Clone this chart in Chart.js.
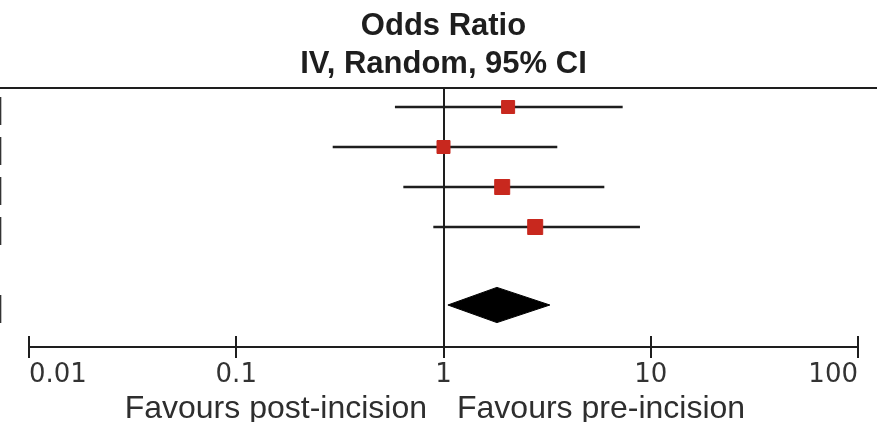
<!DOCTYPE html>
<html><head><meta charset="utf-8">
<script src="https://cdn.jsdelivr.net/npm/chart.js@4.4.1/dist/chart.umd.min.js"></script>
<style>html,body{margin:0;padding:0;background:#fff;}#wrap{width:877px;height:422px;}</style>
</head><body><div id="wrap"><canvas id="c" width="877" height="422"></canvas></div>
<script>
// ---- data ----
const studyRows = [1, 2, 3, 4];
const oddsRatio = [2.05, 1.00, 1.92, 2.77];
const ciLower = [0.583, 0.292, 0.64, 0.893];
const ciUpper = [7.32, 3.54, 5.97, 8.87];
const pooledRow = 5.95;
const pooledOR = 1.81;
const pooledLower = 1.05;
const pooledUpper = 3.26;
const tickValues = [0.01, 0.1, 1, 10, 100];
const tickLabels = ['0.01', '0.1', '1', '10', '100'];
const titleLines = ['Odds Ratio', 'IV, Random, 95% CI'];
const favoursLeft = 'Favours post-incision';
const favoursRight = 'Favours pre-incision';

// ---- styles ----
const INK = '#1e1e1e';
const RED = '#c8281e';
const squareSides = [13, 13, 15, 15];
const diamondHalf = 0.44;

const ciSets = studyRows.map((r, i) => ({
  type: 'scatter', showLine: true, pointRadius: 0, borderColor: INK, borderWidth: 2.5,
  data: [{x: ciLower[i], y: r}, {x: ciUpper[i], y: r}], order: 3
}));
const squareSet = {
  type: 'scatter', pointStyle: 'rect', backgroundColor: RED, borderColor: RED, borderWidth: 1,
  pointRadius: squareSides.map(s => s / Math.SQRT2), order: 1,
  data: studyRows.map((r, i) => ({x: oddsRatio[i], y: r}))
};
const diamondSet = {
  type: 'scatter', showLine: true, pointRadius: 0, borderColor: '#000', borderWidth: 1,
  backgroundColor: '#000', fill: 'shape', order: 2,
  data: [
    {x: pooledLower, y: pooledRow}, {x: pooledOR, y: pooledRow - diamondHalf},
    {x: pooledUpper, y: pooledRow}, {x: pooledOR, y: pooledRow + diamondHalf},
    {x: pooledLower, y: pooledRow}
  ]
};

const forestDecor = {
  id: 'forestDecor',
  beforeDatasetsDraw(chart) {
    const {ctx, chartArea, scales: {x, y}} = chart;
    const x1 = Math.round(x.getPixelForValue(1));
    ctx.save();
    ctx.strokeStyle = INK; ctx.lineWidth = 2;
    ctx.beginPath();
    ctx.moveTo(0, chartArea.top); ctx.lineTo(chart.width, chartArea.top);
    ctx.moveTo(x1, chartArea.top); ctx.lineTo(x1, chartArea.bottom);
    x.ticks.forEach(t => {
      const px = Math.round(x.getPixelForValue(t.value));
      ctx.moveTo(px, chartArea.bottom - 11); ctx.lineTo(px, chartArea.bottom);
    });
    ctx.stroke();
    // favours labels
    ctx.fillStyle = '#2e2e2e';
    ctx.font = '32px "Liberation Sans", Arial, sans-serif';
    ctx.textBaseline = 'alphabetic';
    ctx.textAlign = 'right';
    ctx.fillText(favoursLeft, x1 - 17, 418);
    ctx.textAlign = 'left';
    ctx.fillText(favoursRight, x1 + 13, 418);
    // cropped table brackets at left edge
    ctx.fillStyle = '#333';
    ctx.font = 'bold 30px "Liberation Sans", Arial, sans-serif';
    ctx.textAlign = 'right';
    studyRows.concat([pooledRow]).forEach(r => {
      ctx.fillText(']', 3, y.getPixelForValue(r) + 12);
    });
    ctx.restore();
  }
};

new Chart(document.getElementById('c'), {
  type: 'scatter',
  data: {datasets: [...ciSets, diamondSet, squareSet]},
  options: {
    responsive: false, animation: false, events: [], devicePixelRatio: 1,
    layout: {padding: {left: 29, right: 19, top: 0, bottom: 0}},
    plugins: {
      legend: {display: false}, tooltip: {enabled: false},
      title: {
        display: true, text: titleLines, color: INK,
        font: {family: '"Liberation Sans", Arial, sans-serif', size: 31, weight: 'bold', lineHeight: 38 / 31},
        padding: {top: 7, bottom: 5}
      }
    },
    scales: {
      x: {
        type: 'logarithmic', min: 0.01, max: 100, position: 'bottom',
        afterBuildTicks: s => { s.ticks = tickValues.map(v => ({value: v})); },
        afterFit: s => { s.height = 75; },
        border: {display: true, color: INK, width: 2},
        grid: {display: true, drawOnChartArea: false, drawTicks: true, tickLength: 11, color: INK, lineWidth: 2},
        ticks: {
          align: 'inner', color: '#333', padding: 6, autoSkip: false, maxRotation: 0,
          font: {family: '"DejaVu Sans", sans-serif', size: 26, lineHeight: 0.9},
          callback: v => { const i = tickValues.indexOf(v); return i >= 0 ? tickLabels[i] : ''; }
        }
      },
      y: {type: 'linear', reverse: true, min: 0.525, max: 7, display: false}
    }
  },
  plugins: [forestDecor]
});
</script></body></html>
